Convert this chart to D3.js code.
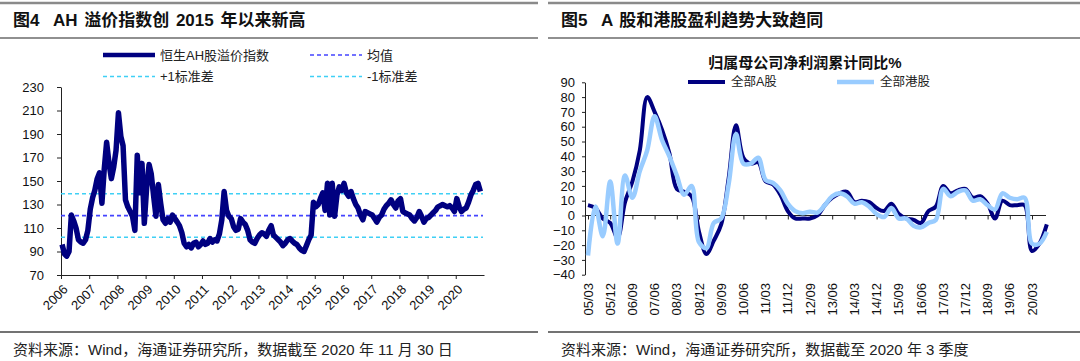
<!DOCTYPE html>
<html>
<head>
<meta charset="utf-8">
<script src="https://cdn.jsdelivr.net/npm/d3@7"></script>
<style>
  body { margin: 0; background: #fff; }
  svg { font-family: "Liberation Sans", Arial, "Noto Sans CJK SC", sans-serif; }
</style>
</head>
<body>
<script>
// ---- data: AH premium index, monthly from 2006-01 to 2020-11 ----
const ahYears = d3.range(2006, 2021);
const ahValues = [
  96, 88, 86, 90, 121, 116, 110, 100, 98, 97, 100, 108,        // 2006
  126, 136, 142, 152, 157, 131, 160, 183, 165, 152, 162, 176,  // 2007
  208, 188, 180, 134, 128, 124, 120, 108, 172, 140, 165, 114,  // 2008
  145, 164, 156, 137, 120, 147, 131, 117, 114, 118, 115, 121,  // 2009
  118, 115, 112, 106, 97, 94, 96, 93, 97, 98, 94, 96,          // 2010
  99, 96, 97, 101, 98, 100, 99, 105, 117, 141, 125, 120,       // 2011
  118, 111, 108, 109, 118, 115, 113, 108, 100, 98, 97, 101,    // 2012
  104, 106, 105, 103, 108, 112, 104, 102, 100, 98, 95, 97,     // 2013
  100, 101, 99, 97, 96, 93, 91, 90, 95, 100, 104, 132,         // 2014
  128, 130, 135, 140, 125, 148, 121, 148, 120, 138, 145, 142,  // 2015
  148, 140, 137, 141, 135, 130, 127, 121, 117, 124, 123, 122,  // 2016
  121, 118, 115, 119, 121, 126, 129, 131, 134, 130, 127, 133,  // 2017
  135, 124, 123, 122, 121, 118, 116, 119, 124, 120, 115, 118,  // 2018
  119, 121, 123, 125, 128, 129, 130, 129, 128, 129, 127, 124,  // 2019
  135, 128, 124, 126, 127, 132, 138, 142, 147, 148, 141        // 2020
];
const ahMean = 120.6;
const ahBands = [139.1, 102.1];   // +1 std, -1 std
const ahTicks = [70, 90, 110, 130, 150, 170, 190, 210, 230];

// ---- data: net profit growth, quarterly 2005Q1 - 2020Q3 ----
const quarters = [
  "05/03","05/06","05/09","05/12","06/03","06/06","06/09","06/12",
  "07/03","07/06","07/09","07/12","08/03","08/06","08/09","08/12",
  "09/03","09/06","09/09","09/12","10/03","10/06","10/09","10/12",
  "11/03","11/06","11/09","11/12","12/03","12/06","12/09","12/12",
  "13/03","13/06","13/09","13/12","14/03","14/06","14/09","14/12",
  "15/03","15/06","15/09","15/12","16/03","16/06","16/09","16/12",
  "17/03","17/06","17/09","17/12","18/03","18/06","18/09","18/12",
  "19/03","19/06","19/09","19/12","20/03","20/06","20/09"
];
const aShares = [
  7, 5, -2, -5, -15, 9, 23, 44, 80, 70, 58, 42, 18, 16, 13, -11,
  -26, -17, -6, 25, 61, 39, 35, 36, 23, 21, 14, 3, -2, -2, -2, 0,
  7, 12, 15, 16, 9, 10, 9, 5, 3, 8, 1, -2, -3, -5, 3, 6,
  20, 15, 17, 18, 12, 13, 8, -2, 10, 7, 7, 7, -24, -19, -6
];
const hkShares = [
  -27, 6, -14, 23, -19, 27, 12, 30, 44, 67, 51, 40, 27, 14, 20, -18,
  -22, -5, -2, 21, 55, 35, 35, 39, 24, 22, 17, 8, 3, 1.5, 2.6, 2,
  7, 13, 15, 13, 8, 9, 6, 1, -1, 5, -2, -2, -7, -8, -5, -3,
  18, 13, 16, 17, 10, 11, 7, 4, 15, 12, 11, 12, -19, -19, -11
];
const pctTicks = d3.range(-40, 91, 10);

const navy = "#000080";
const lightBlue = "#99ccff";

const svg = d3.select("body").append("svg")
  .attr("width", 1080)
  .attr("height", 361);

// panel frame: rules, title, source
function frame(x0, x1, num, title, source) {
  svg.append("line").attr("x1", x0).attr("x2", x1).attr("y1", 3).attr("y2", 3)
    .attr("stroke", "#8a8a8a").attr("stroke-width", 2.5);
  const t = svg.append("text").attr("x", x0 + 13).attr("y", 26)
    .attr("font-size", 17).attr("font-weight", "bold").attr("fill", "#111")
    .attr("word-spacing", 2)
    .style("white-space", "pre");
  t.append("tspan").text(num + "  ");
  t.append("tspan").text(title);
  svg.append("line").attr("x1", x0).attr("x2", x1).attr("y1", 38).attr("y2", 38)
    .attr("stroke", "#222").attr("stroke-width", 1.2);
  svg.append("line").attr("x1", x0).attr("x2", x1).attr("y1", 332).attr("y2", 332)
    .attr("stroke", "#444").attr("stroke-width", 1.3);
  svg.append("text").attr("x", x0 + 13).attr("y", 355)
    .attr("font-size", 15).attr("fill", "#222")
    .text(source);
}

frame(0, 538, "图4", "AH 溢价指数创 2015 年以来新高", "资料来源：Wind，海通证券研究所，数据截至 2020 年 11 月 30 日");
frame(548, 1080, "图5", "A 股和港股盈利趋势大致趋同", "资料来源：Wind，海通证券研究所，数据截至 2020 年 3 季度");

// ================= left chart =================
const ahData = ahValues.map((v, i) => ({ date: d3.timeMonth.offset(new Date(2006, 0, 15), i), value: v }));

const x1 = d3.scaleTime()
  .domain([new Date(2006, 0, 1), new Date(2021, 0, 1)])
  .range([61, 484]);
const y1 = d3.scaleLinear().domain([70, 230]).range([275, 87]);

svg.append("g")
  .attr("transform", "translate(61,0)")
  .call(d3.axisLeft(y1).tickValues(ahTicks).tickSize(4).tickSizeOuter(0).tickPadding(13));
const gx1 = svg.append("g")
  .attr("transform", "translate(0,275)")
  .call(d3.axisBottom(x1)
    .tickValues(ahYears.map(yr => new Date(yr, 0, 1)))
    .tickFormat(d3.timeFormat("%Y"))
    .tickSize(4).tickSizeOuter(0));
gx1.selectAll("text")
  .attr("x", 0).attr("y", 0).attr("dy", "0.35em")
  .attr("text-anchor", "end")
  .attr("transform", "translate(4,12) rotate(-45)");

// reference lines
const refLines = [
  { v: ahBands[0], c: "#3fd0f5", w: 1.6 },
  { v: ahBands[1], c: "#3fd0f5", w: 1.6 },
  { v: ahMean, c: "#4444ff", w: 1.8 }
];
svg.selectAll(".ref").data(refLines).enter().append("line")
  .attr("x1", 61).attr("x2", 483)
  .attr("y1", d => y1(d.v)).attr("y2", d => y1(d.v))
  .attr("stroke", d => d.c).attr("stroke-width", d => d.w)
  .attr("stroke-dasharray", "4,3");

svg.append("path")
  .datum(ahData)
  .attr("fill", "none")
  .attr("stroke", navy)
  .attr("stroke-width", 5.5)
  .attr("stroke-linejoin", "round")
  .attr("d", d3.line().x(d => x1(d.date)).y(d => y1(d.value)));

// left legend
const legL = [
  { x: 103, y: 55, label: "恒生AH股溢价指数", c: navy, w: 4.5, dash: null },
  { x: 310, y: 55, label: "均值", c: "#4444ff", w: 1.6, dash: "4,3" },
  { x: 103, y: 76.5, label: "+1标准差", c: "#3fd0f5", w: 1.6, dash: "4,3" },
  { x: 310, y: 76.5, label: "-1标准差", c: "#3fd0f5", w: 1.6, dash: "4,3" }
];
const lg = svg.selectAll(".legL").data(legL).enter().append("g");
lg.append("line")
  .attr("x1", d => d.x).attr("x2", d => d.x + 52)
  .attr("y1", d => d.y).attr("y2", d => d.y)
  .attr("stroke", d => d.c).attr("stroke-width", d => d.w)
  .attr("stroke-dasharray", d => d.dash);
lg.append("text")
  .attr("x", d => d.x + 57).attr("y", d => d.y).attr("dy", "0.35em")
  .attr("font-size", 13).attr("fill", "#222")
  .text(d => d.label);

// ================= right chart =================
const x2 = d3.scalePoint().domain(quarters).range([588, 588 + 62 * 7.4]);
const y2 = d3.scaleLinear().domain([-40, 90]).range([274.7, 82.3]);

svg.append("g")
  .attr("transform", "translate(585,0)")
  .call(d3.axisLeft(y2).tickValues(pctTicks).tickSize(3).tickSizeOuter(0).tickPadding(7));

const labelQs = quarters.filter((q, i) => i % 3 === 0);
const gx2 = svg.append("g")
  .attr("transform", `translate(0,${y2(0)})`)
  .call(d3.axisBottom(x2).tickValues(labelQs).tickSize(4).tickSizeOuter(0).tickFormat(""));
gx2.select(".domain").attr("d", `M585,0H1046`);

svg.append("g").selectAll("text")
  .data(labelQs).enter().append("text")
  .attr("transform", d => `translate(${x2(d)},283) rotate(-90)`)
  .attr("text-anchor", "end")
  .attr("dy", "0.35em")
  .attr("font-size", 13)
  .attr("fill", "#111")
  .text(d => d);

const curve = d3.line().curve(d3.curveCatmullRom)
  .x(d => x2(d.q)).y(d => y2(d.v));

svg.append("path")
  .datum(quarters.map((q, i) => ({ q, v: aShares[i] })))
  .attr("fill", "none").attr("stroke", navy).attr("stroke-width", 4)
  .attr("d", curve);
svg.append("path")
  .datum(quarters.map((q, i) => ({ q, v: hkShares[i] })))
  .attr("fill", "none").attr("stroke", lightBlue).attr("stroke-width", 4.5)
  .attr("d", curve);

svg.append("text")
  .attr("x", 805).attr("y", 63).attr("dy", "0.35em")
  .attr("text-anchor", "middle")
  .attr("font-size", 15).attr("font-weight", "bold").attr("fill", "#111")
  .text("归属母公司净利润累计同比%");

const legR = [
  { x: 688, label: "全部A股", c: navy, w: 4 },
  { x: 837, label: "全部港股", c: lightBlue, w: 4.5 }
];
const lr = svg.selectAll(".legR").data(legR).enter().append("g");
lr.append("line")
  .attr("x1", d => d.x).attr("x2", d => d.x + 37)
  .attr("y1", 82).attr("y2", 82)
  .attr("stroke", d => d.c).attr("stroke-width", d => d.w);
lr.append("text")
  .attr("x", d => d.x + 43).attr("y", 82).attr("dy", "0.35em")
  .attr("font-size", 12.5).attr("fill", "#222")
  .text(d => d.label);

// axis text styling
svg.selectAll(".tick text").attr("font-size", 13).attr("fill", "#111");
svg.selectAll("g").filter(function () { return this.getAttribute("font-family"); })
  .attr("font-family", null);
svg.selectAll(".domain, .tick line").attr("stroke", "#222");
</script>
</body>
</html>
